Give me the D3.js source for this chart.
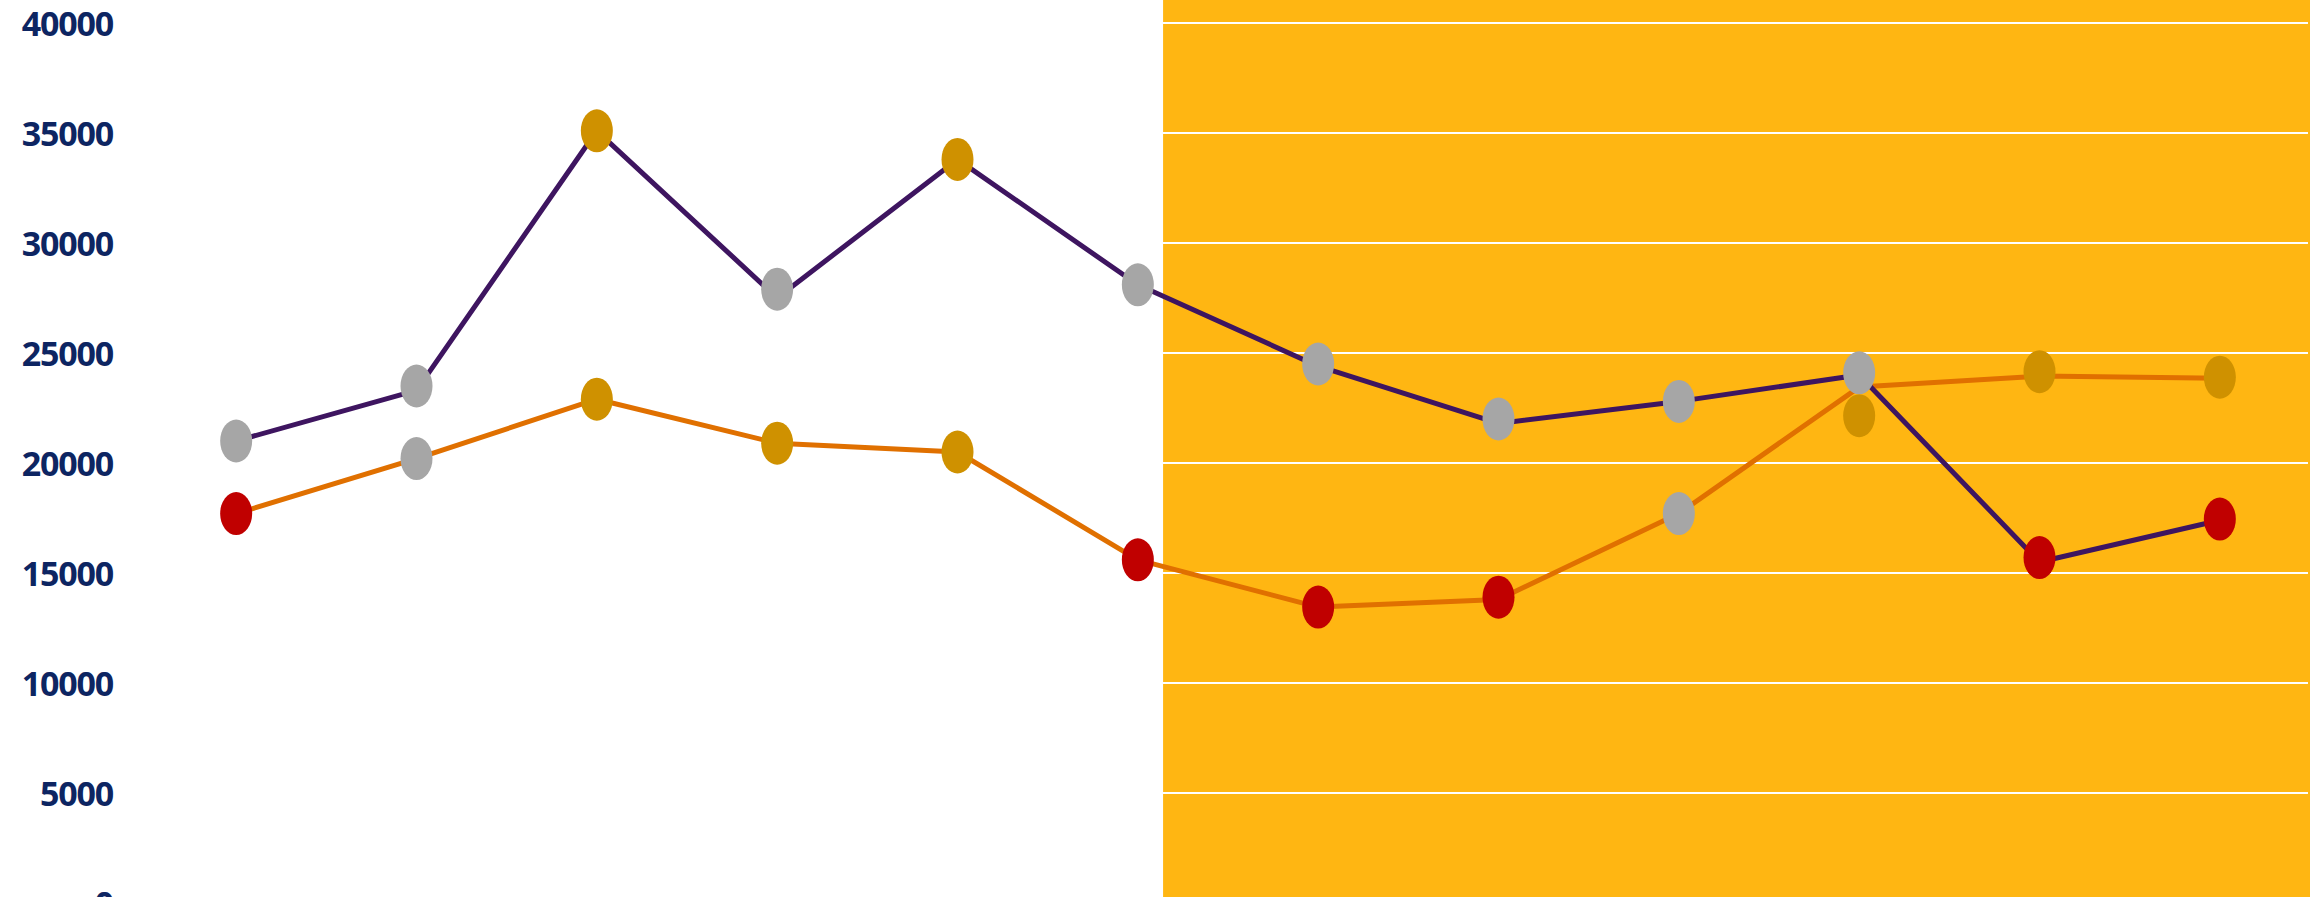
<!DOCTYPE html>
<html>
<head>
<meta charset="utf-8">
<script src="https://cdn.jsdelivr.net/npm/d3@7"></script>
<style>
  html, body { margin: 0; padding: 0; background: #ffffff; overflow: hidden; }
  svg { display: block; }
</style>
</head>
<body>
<svg id="chart" width="2310" height="897"></svg>
<script>
// Periods along the x axis
const periods = ["1", "2", "3", "4", "5", "6", "7", "8", "9", "10", "11", "12"];

// Upper series (purple line)
const upperLine = [21000, 23300, 35100, 27500, 33800, 28100, 24400, 21800, 22800, 24000, 15500, 17400];
const upperDots = [21000, 23500, 35100, 27900, 33800, 28100, 24500, 22000, 22800, 24100, 15700, 17450];
const upperStatus = ["grey", "grey", "gold", "grey", "gold", "grey", "grey", "grey", "grey", "grey", "red", "red"];

// Lower series (orange line)
const lowerLine = [17700, 20200, 22900, 20900, 20500, 15600, 13450, 13800, 17700, 23450, 23950, 23850];
const lowerDots = [17700, 20200, 22900, 20900, 20500, 15600, 13450, 13900, 17700, 22150, 24150, 23900];
const lowerStatus = ["red", "grey", "gold", "gold", "gold", "red", "red", "red", "grey", "gold", "gold", "gold"];

// Value axis ticks
const yTicks = [0, 5000, 10000, 15000, 20000, 25000, 30000, 35000, 40000];

// Shaded section starts this far along the period index
const shadedFrom = 5.14;

const statusColor = { grey: "#a6a6a6", gold: "#cf9100", red: "#c00000" };

const W = 2310, H = 897;
const plot = { left: 146, right: 2310, top: 23, bottom: 903 };

const svg = d3.select("#chart");

const x = d3.scalePoint(periods, [plot.left, plot.right]).padding(0.5);
const y = d3.scaleLinear([0, 40000], [plot.bottom, plot.top]);

// Shaded band
const bandX = x(periods[0]) + shadedFrom * x.step();
svg.append("rect")
  .attr("x", bandX)
  .attr("y", 0)
  .attr("width", W - bandX)
  .attr("height", H)
  .attr("fill", "#ffb612");

// Horizontal gridlines
svg.append("g")
  .selectAll("line")
  .data(yTicks)
  .join("line")
  .attr("x1", plot.left)
  .attr("x2", W - 2)
  .attr("y1", d => y(d))
  .attr("y2", d => y(d))
  .attr("stroke", "#ffffff")
  .attr("stroke-width", 2);

// Value axis labels
const yAxis = d3.axisLeft(y).tickValues(yTicks).tickSize(0).tickPadding(0).tickFormat(d3.format("d"));
const yg = svg.append("g")
  .attr("transform", "translate(113,0)")
  .call(yAxis);
yg.select(".domain").remove();
yg.selectAll("text")
  .attr("fill", "#0d2562")
  .attr("font-family", "'Open Sans', 'Noto Sans', sans-serif")
  .attr("font-weight", 700)
  .attr("font-size", 34)
  .attr("letter-spacing", -1.2)
  .attr("dy", "0.36em");

const line = d3.line()
  .x((d, i) => x(periods[i]))
  .y(d => y(d));

svg.append("path")
  .datum(lowerLine)
  .attr("d", line)
  .attr("fill", "none")
  .attr("stroke", "#e07000")
  .attr("stroke-width", 5)
  .attr("stroke-linejoin", "round");

svg.append("path")
  .datum(upperLine)
  .attr("d", line)
  .attr("fill", "none")
  .attr("stroke", "#3e1560")
  .attr("stroke-width", 5)
  .attr("stroke-linejoin", "round");

function dots(values, status) {
  svg.append("g")
    .selectAll("ellipse")
    .data(values)
    .join("ellipse")
    .attr("cx", (d, i) => x(periods[i]))
    .attr("cy", d => y(d))
    .attr("rx", 16)
    .attr("ry", 21.5)
    .attr("fill", (d, i) => statusColor[status[i]]);
}

dots(lowerDots, lowerStatus);
dots(upperDots, upperStatus);
</script>
</body>
</html>
